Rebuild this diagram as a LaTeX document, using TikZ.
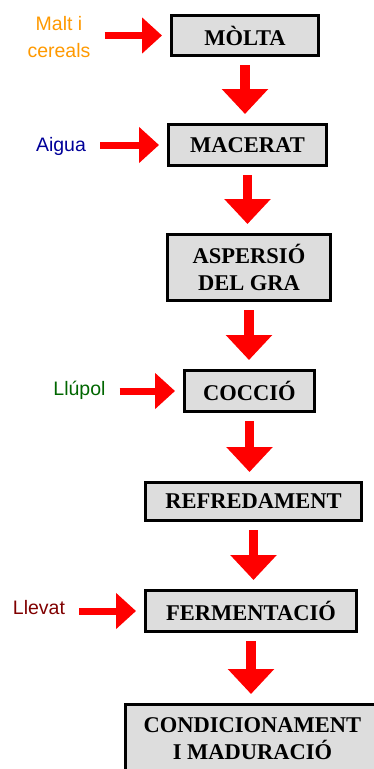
\documentclass[tikz,border=0pt]{standalone}
\usepackage{fontspec}
\setmainfont{Liberation Serif}
\newfontfamily\inputsans{Liberation Sans}
\definecolor{stagegrey}{RGB}{221, 221, 221}
\definecolor{flowred}{RGB}{255, 0, 0}
\definecolor{maltorange}{RGB}{255, 153, 0}
\definecolor{waterblue}{RGB}{0, 0, 153}
\definecolor{hopgreen}{RGB}{0, 102, 0}
\definecolor{yeastred}{RGB}{128, 0, 0}
\usetikzlibrary{arrows.meta}

\begin{document}
\begin{tikzpicture}[x=1pt, y=-1pt,
  stagebox/.style={draw=black, line width=3pt, fill=stagegrey, inner sep=0pt, align=center, font=\fontsize{22.5}{27}\selectfont\bfseries},
  inputlabel/.style={inner sep=0pt, anchor=base, align=center, font=\fontsize{19.5}{27}\selectfont\inputsans},
  downflow/.style={draw=flowred, line width=9.5pt, -{Triangle[width=45pt, length=25pt]}},
  sideflow/.style={draw=flowred, line width=7pt, -{Triangle[width=35pt, length=20pt]}}
]
  \useasboundingbox (0,0) rectangle (374,769);

  % Process stages
  \node[stagebox, minimum width=147pt, minimum height=40pt] (molta) at (245, 35.5) {MÒLTA};
  \node[stagebox, minimum width=158pt, minimum height=41pt] (macerat) at (247.5, 145) {MACERAT};
  \node[stagebox, minimum width=163pt, minimum height=66pt] (aspersio) at (249, 267.5) {ASPERSIÓ\\DEL GRA};
  \node[stagebox, minimum width=130pt, minimum height=41pt] (coccio) at (249.5, 391) {COCCIÓ};
  \node[stagebox, minimum width=216pt, minimum height=38pt] (refredament) at (253.5, 501.5) {REFREDAMENT};
  \node[stagebox, minimum width=211pt, minimum height=41pt] (fermentacio) at (251, 611) {FERMENTACIÓ};
  \node[stagebox, minimum width=254pt, minimum height=69pt] (condicionament) at (252.5, 739) {CONDICIONAMENT\\I MADURACIÓ};

  % Inputs
  \node[inputlabel, text=maltorange] (malt) at (59, 57) {Malt i\\cereals};
  \node[inputlabel, text=waterblue] (aigua) at (61, 151) {Aigua};
  \node[inputlabel, text=hopgreen] (llupol) at (79.5, 395) {Llúpol};
  \node[inputlabel, text=yeastred] (llevat) at (39, 614) {Llevat};

  % Flow down
  \draw[downflow] ([yshift=-8pt]molta.south) -- ([yshift=9pt]molta.south |- macerat.north);
  \draw[downflow] ([yshift=-8pt]macerat.south) -- ([yshift=9pt]macerat.south |- aspersio.north);
  \draw[downflow] ([yshift=-8pt]aspersio.south) -- ([yshift=9pt]aspersio.south |- coccio.north);
  \draw[downflow] ([yshift=-8pt]coccio.south) -- ([yshift=9pt]coccio.south |- refredament.north);
  \draw[downflow] ([yshift=-8pt]refredament.south) -- ([yshift=9pt]refredament.south |- fermentacio.north);
  \draw[downflow] ([yshift=-8pt]fermentacio.south) -- ([yshift=9pt]fermentacio.south |- condicionament.north);

  % Inputs into stages
  \draw[sideflow] ([xshift=14pt]malt.east |- molta.west) -- ([xshift=-8pt]molta.west);
  \draw[sideflow] ([xshift=14pt]aigua.east |- macerat.west) -- ([xshift=-8pt]macerat.west);
  \draw[sideflow] ([xshift=14pt]llupol.east |- coccio.west) -- ([xshift=-8pt]coccio.west);
  \draw[sideflow] ([xshift=14pt]llevat.east |- fermentacio.west) -- ([xshift=-8pt]fermentacio.west);
\end{tikzpicture}
\end{document}
